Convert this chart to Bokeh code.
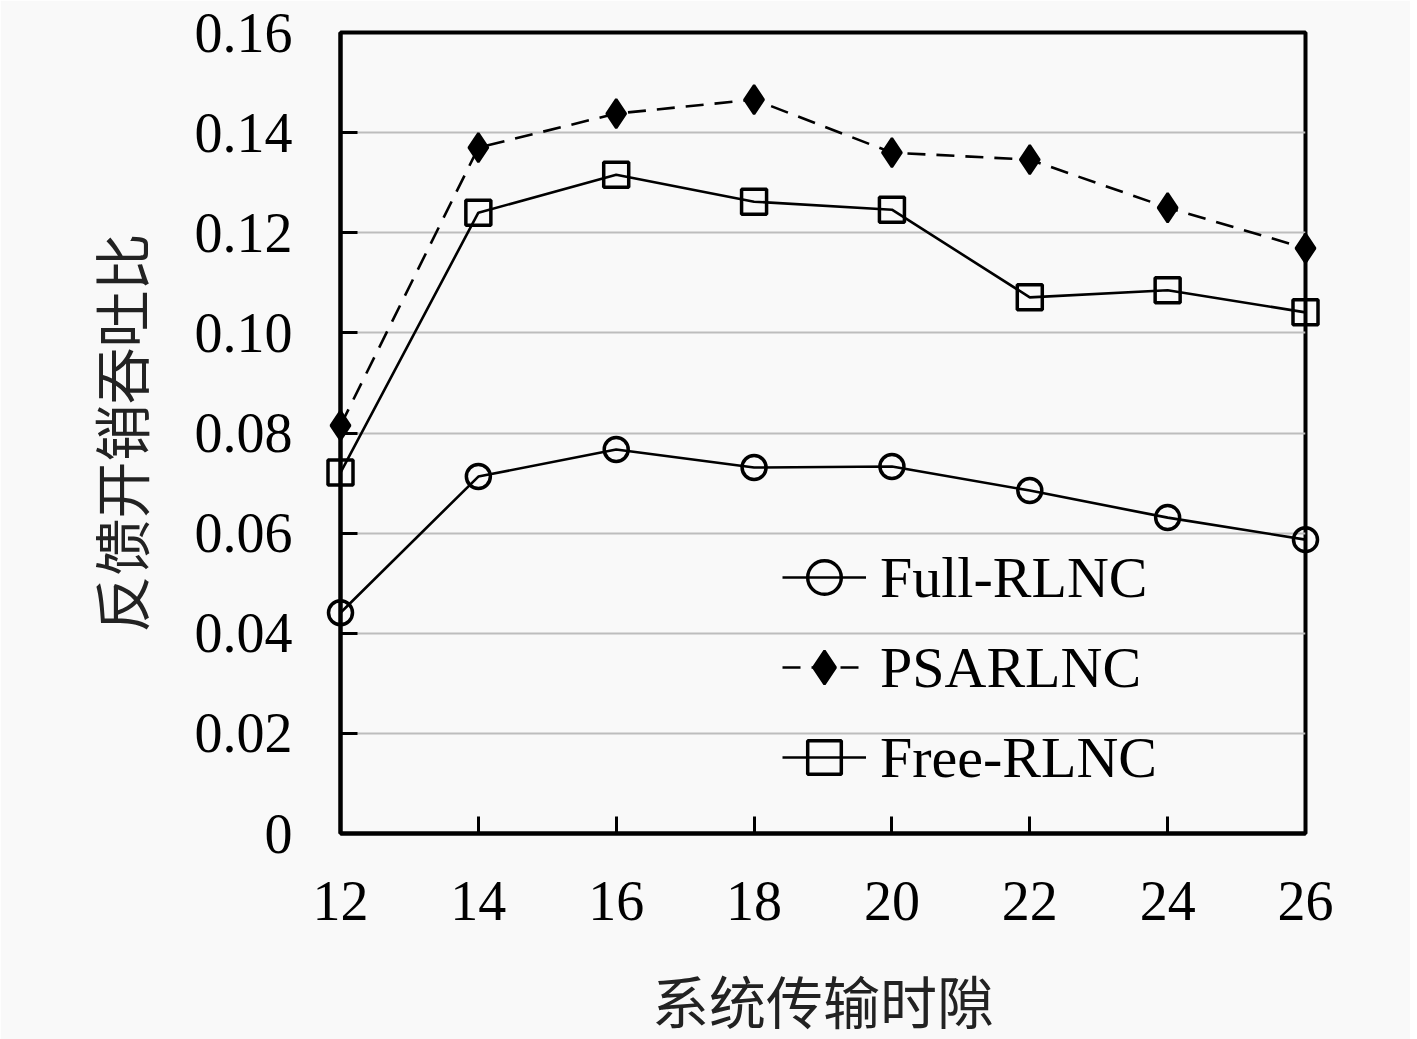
import math
from bokeh.plotting import figure
from bokeh.models import Range1d, FixedTicker, Legend, LegendItem
from bokeh.embed import file_html
from bokeh.resources import INLINE

slots = [12, 14, 16, 18, 20, 22, 24, 26]
full_rlnc = [0.0441, 0.0713, 0.0767, 0.0731, 0.0733, 0.0685, 0.0631, 0.0587]
psarlnc = [0.0815, 0.1370, 0.1438, 0.1466, 0.1360, 0.1346, 0.1250, 0.1169]
free_rlnc = [0.0721, 0.1240, 0.1316, 0.1262, 0.1246, 0.1071, 0.1085, 0.1041]
y_ticks = [0, 0.02, 0.04, 0.06, 0.08, 0.10, 0.12, 0.14, 0.16]
y_tick_labels = ["0", "0.02", "0.04", "0.06", "0.08", "0.10", "0.12", "0.14", "0.16"]
x_label = "系统传输时隙"
y_label = "反馈开销吞吐比"

BG = "#f9f9f9"
SERIF = "Liberation Serif"
CJK = "Noto Sans CJK SC"

W, H = 1410, 1039
ML, MR, MT, MB = 340, 105, 32, 206

p = figure(width=W, height=H, output_backend="svg", toolbar_location=None,
           x_range=Range1d(12, 26), y_range=Range1d(0, 0.16),
           min_border_left=ML, min_border_right=MR, min_border_top=MT, min_border_bottom=MB)
p.background_fill_color = BG
p.border_fill_color = BG
p.outline_line_color = "black"
p.outline_line_width = 4

p.xgrid.visible = False
p.ygrid.grid_line_color = "#bdbdbd"
p.ygrid.grid_line_width = 2

p.xaxis.ticker = FixedTicker(ticks=slots)
p.yaxis.ticker = FixedTicker(ticks=y_ticks)
p.yaxis.major_label_overrides = {t: l for t, l in zip(y_ticks, y_tick_labels)}
p.xaxis.major_label_overrides = {t: str(t) for t in slots}

for ax in (p.xaxis[0], p.yaxis[0]):
    ax.axis_line_color = "black"
    ax.axis_line_width = 4
    ax.major_tick_line_color = "black"
    ax.major_tick_line_width = 3
    ax.major_tick_in = 17
    ax.major_tick_out = 0
    ax.minor_tick_line_color = None
    ax.major_label_text_font = SERIF
    ax.major_label_text_font_size = "56px"
    ax.major_label_text_color = "black"
    ax.axis_label_text_font_size = "57px"
    ax.axis_label_text_font_style = "normal"
    ax.axis_label_text_color = "#222222"

p.xaxis.axis_label = x_label
p.yaxis.axis_label = y_label
p.xaxis.axis_label_text_font = SERIF + ", " + CJK
p.yaxis.axis_label_text_font = CJK
p.yaxis.major_label_standoff = 48
p.xaxis.major_label_standoff = 48
p.yaxis.axis_label_standoff = 32
p.xaxis.axis_label_standoff = 50

l1 = p.line(slots, full_rlnc, line_color="black", line_width=2.6, level="overlay")
m1 = p.scatter(slots, full_rlnc, marker="circle", size=24, line_color="black",
               line_width=3.5, fill_alpha=0, level="overlay")
l2 = p.line(slots, psarlnc, line_color="black", line_width=2.6, line_dash="18 11",
            level="overlay")
m2 = p.scatter(slots, psarlnc, marker="diamond", size=29,
               line_color="black", line_width=2.5, fill_color="black", level="overlay")
l3 = p.line(slots, free_rlnc, line_color="black", line_width=2.6, level="overlay")
m3 = p.scatter(slots, free_rlnc, marker="square", size=25, line_color="black",
               line_width=3.5, fill_alpha=0, level="overlay")

legend = Legend(items=[
    LegendItem(label="Full-RLNC", renderers=[l1, m1]),
    LegendItem(label="PSARLNC", renderers=[l2, m2]),
    LegendItem(label="Free-RLNC", renderers=[l3, m3]),
], location=(442, 31))
legend.background_fill_alpha = 0
legend.border_line_color = None
legend.padding = 0
legend.margin = 0
legend.spacing = 0
legend.glyph_width = 84
legend.glyph_height = 90
legend.label_height = 90
legend.label_standoff = 14
legend.label_text_font = SERIF
legend.label_text_font_size = "58px"
legend.label_text_color = "black"
p.add_layout(legend, "center")

open("out.html", "w").write(file_html(p, INLINE))
